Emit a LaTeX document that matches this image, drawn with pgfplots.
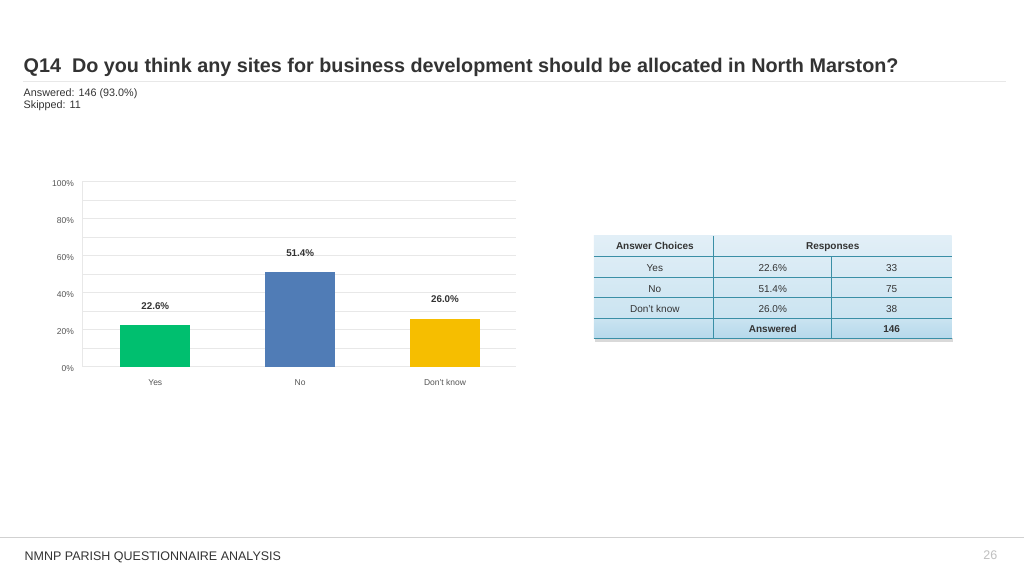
\documentclass[border=0pt]{standalone}
\usepackage{fontspec}
\setmainfont{Liberation Sans}
\usepackage{pgfplots}
\pgfplotsset{compat=1.18}
\definecolor{cgreen}{HTML}{00BF6F}
\definecolor{cblue}{HTML}{507CB6}
\definecolor{cyellow}{HTML}{F6BE00}
\definecolor{ctext}{HTML}{333333}
\definecolor{cgrid}{HTML}{E8E8E8}
\definecolor{ctick}{HTML}{555555}
\definecolor{tline}{HTML}{3A8FA6}
\definecolor{tbgA}{HTML}{E2EFF7}
\definecolor{tbgB}{HTML}{CBE4F1}
\definecolor{tbgC}{HTML}{B5D8EB}
\begin{document}
\begin{tikzpicture}[x=1pt,y=1pt]
\fill[white] (0,0) rectangle (1024,-576);
% title
\node[anchor=base west,inner sep=0,text=ctext,font=\fontsize{19.8}{23}\selectfont\bfseries] at (23,-72.5) {Q14\ \ Do you think any sites for business development should be allocated in North Marston?};
\draw[cgrid,line width=0.8pt] (23,-81.5) -- (1006,-81.5);
\node[anchor=base west,inner sep=0,text=ctext,font=\fontsize{10.8}{12}\selectfont] at (23,-97) {Answered: 146 (93.0\%)};
\node[anchor=base west,inner sep=0,text=ctext,font=\fontsize{10.8}{12}\selectfont] at (23,-109) {Skipped: 11};
% chart
\begin{axis}[
  at={(82pt,-367pt)}, anchor=south west,
  width=434pt, height=185pt, scale only axis,
  ymin=0, ymax=100, xmin=-0.503, xmax=2.49,
  ytick={0,20,40,60,80,100},
  minor ytick={10,30,50,70,90},
  yticklabel={\pgfmathprintnumber{\tick}\%},
  /pgf/number format/assume math mode=true,
  xtick={0,1,2}, xticklabels={Yes,No,Don't know},
  ymajorgrids, yminorgrids,
  major grid style={cgrid,line width=0.7pt},
  minor grid style={cgrid,line width=0.7pt},
  axis x line*=bottom, axis y line*=left,
  axis line style={draw=cgrid,line width=0.8pt},
  major tick length=0pt, minor tick length=0pt,
  tick label style={text=ctick,font=\fontsize{8.5}{10}\selectfont},
  yticklabel style={xshift=-5pt,yshift=-2pt},
  xticklabel style={yshift=-9pt},
  ybar, bar width=70pt, bar shift=0pt,
  nodes near coords={\pgfmathprintnumber[fixed,fixed zerofill,precision=1]{\pgfplotspointmeta}\%},
  nodes near coords style={text=ctext,font=\fontsize{9.8}{11}\selectfont\bfseries,yshift=12pt,/pgf/number format/assume math mode=true},
  clip=false,
]
\addplot[fill=cgreen,draw=none] coordinates {(0,22.6)};
\addplot[fill=cblue,draw=none] coordinates {(1,51.4)};
\addplot[fill=cyellow,draw=none] coordinates {(2,26.0)};
\end{axis}
% table
\fill[black!15] (595,-342) rectangle (953,-338);
\shade[top color=tbgA,bottom color=tbgB] (594,-236) rectangle (952,-318);
\shade[top color=tbgB,bottom color=tbgC] (594,-318) rectangle (952,-339);
\draw[tline,line width=0.8pt] (594,-256.5) -- (952,-256.5);
\draw[tline,line width=0.8pt] (594,-277.5) -- (952,-277.5);
\draw[tline,line width=0.8pt] (594,-298) -- (952,-298);
\draw[tline,line width=0.8pt] (594,-318.5) -- (952,-318.5);
\draw[tline,line width=0.8pt] (594,-338.5) -- (952,-338.5);
\draw[tline,line width=0.8pt] (714,-236) -- (714,-339);
\draw[tline,line width=0.8pt] (832,-256.5) -- (832,-339);
\begin{scope}[every node/.style={inner sep=0,anchor=base,text=ctext,font=\fontsize{10}{12}\selectfont}]
\node[font=\fontsize{10}{12}\selectfont\bfseries] at (655,-249.5) {Answer Choices};
\node[font=\fontsize{10}{12}\selectfont\bfseries] at (833,-249.5) {Responses};
\node at (655,-271.5) {Yes};
\node at (773,-271.5) {22.6\%};
\node at (892,-271.5) {33};
\node at (655,-292.5) {No};
\node at (773,-292.5) {51.4\%};
\node at (892,-292.5) {75};
\node at (655,-312.5) {Don't know};
\node at (773,-312.5) {26.0\%};
\node at (892,-312.5) {38};
\node[font=\fontsize{10}{12}\selectfont\bfseries] at (773,-333) {Answered};
\node[font=\fontsize{10}{12}\selectfont\bfseries] at (892,-333) {146};
\end{scope}
% footer
\draw[black!18,line width=1pt] (0,-538.5) -- (1024,-538.5);
\node[anchor=base west,inner sep=0,text=ctext,font=\fontsize{12.5}{14}\selectfont] at (24,-561.5) {NMNP PARISH QUESTIONNAIRE ANALYSIS};
\node[anchor=base east,inner sep=0,text=black!25,font=\fontsize{12.5}{14}\selectfont] at (998,-560) {26};
\end{tikzpicture}
\end{document}
